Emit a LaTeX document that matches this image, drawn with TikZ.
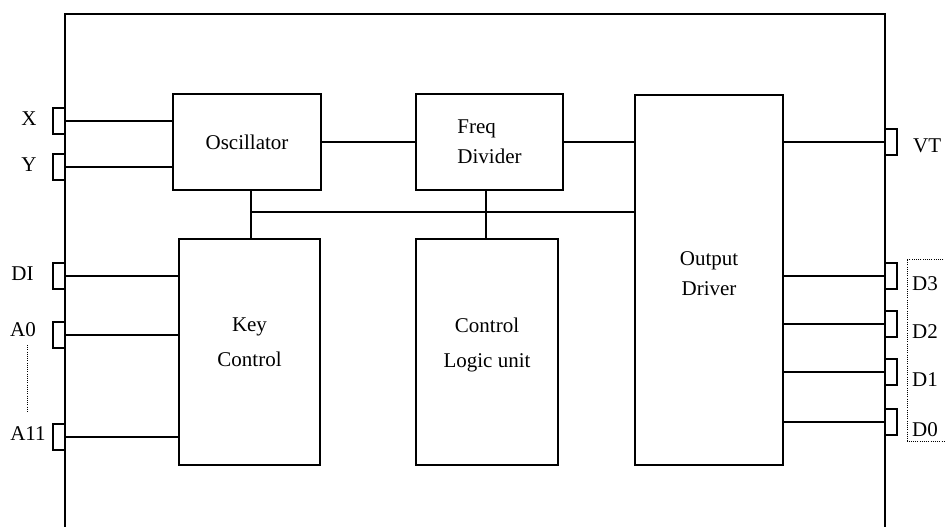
\documentclass[tikz,border=0pt]{standalone}
\usepackage{fontspec}
\setmainfont{Liberation Serif}

\tikzset{
  block/.style={draw, line width=1.8pt, inner sep=0pt},
  pinbox/.style={draw, line width=1.6pt, minimum width=12pt, minimum height=26pt, inner sep=0pt, fill=white},
  wire/.style={line width=1.8pt},
  lbl/.style={inner sep=0pt},
  dots/.style={line width=1pt, dash pattern=on 1pt off 1.2pt},
}

\begin{document}
\begin{tikzpicture}[x=1pt, y=-1pt, font=\fontsize{21}{30}\selectfont]
\useasboundingbox (0,0) rectangle (945,527);

% chip outline, open at the bottom
\draw[wire] (65,527) -- (65,14) -- (885,14) -- (885,527);

% blocks
\node[block, minimum width=148pt, minimum height=96pt] (osc) at (247,142) {Oscillator};
\node[block, minimum width=147pt, minimum height=96pt, align=left] (freq) at (489.5,142) {Freq\\Divider};
\node[block, minimum width=148pt, minimum height=370pt] (out) at (709,280) {};
\node[block, minimum width=141pt, minimum height=226pt] (key) at (249.5,352) {};
\node[block, minimum width=142pt, minimum height=226pt] (logic) at (487,352) {};

\node[lbl, align=center] (out txt) at ([yshift=6pt]out.center) {Output\\Driver};
\node[lbl, align=center] (key txt) at ([yshift=9.5pt]key.center) {Key\\[5pt]Control};
\node[lbl, align=center] (logic txt) at ([yshift=7pt]logic.center) {Control\\[5pt]Logic unit};

% pins on the left
\node[pinbox] (pin x) at (59,121) {};
\node[pinbox] (pin y) at (59,167) {};
\node[pinbox] (pin di) at (59,276) {};
\node[pinbox] (pin a0) at (59,335) {};
\node[pinbox] (pin a11) at (59,437) {};

\node[lbl] (lbl x) at (29,119) {X};
\node[lbl] (lbl y) at (29,165) {Y};
\node[lbl] (lbl di) at (22.5,273.5) {DI};
\node[lbl] (lbl a0) at (23,330) {A0};
\node[lbl] (lbl a11) at (28,434) {A11};
\draw[dots] (27,345) -- (27,413);

% pins on the right
\node[pinbox] (pin vt) at (891,142) {};
\node[pinbox] (pin d3) at (891,276) {};
\node[pinbox] (pin d2) at (891,324) {};
\node[pinbox] (pin d1) at (891,372) {};
\node[pinbox] (pin d0) at (891,422) {};

\node[lbl, anchor=west] (lbl vt) at (913,146) {VT};
\node[lbl, anchor=west] (lbl d3) at (912,284) {D3};
\node[lbl, anchor=west] (lbl d2) at (912,332) {D2};
\node[lbl, anchor=west] (lbl d1) at (912,380) {D1};
\node[lbl, anchor=west] (lbl d0) at (912,430) {D0};
\draw[dots] (950,259) -- (907,259) -- (907,441) -- (950,441);

% connections
\draw[wire] (pin x.east) -- (pin x.east -| osc.west);
\draw[wire] (pin y.east) -- (pin y.east -| osc.west);
\draw[wire] (pin di.east) -- (pin di.east -| key.west);
\draw[wire] (pin a0.east) -- (pin a0.east -| key.west);
\draw[wire] (pin a11.east) -- (pin a11.east -| key.west);

\draw[wire] (osc.east) -- (freq.west);
\draw[wire] (freq.east) -- (freq.east -| out.west);
\draw[wire] (pin vt.west -| out.east) -- (pin vt.west);

\coordinate (bus l) at (251,212);
\coordinate (bus m) at (486,212);
\draw[wire] (bus l |- osc.south) -- (bus l |- key.north);
\draw[wire] (bus l) -- (bus l -| out.west);
\draw[wire] (bus m |- freq.south) -- (bus m |- logic.north);

\draw[wire] (pin d3.west -| out.east) -- (pin d3.west);
\draw[wire] (pin d2.west -| out.east) -- (pin d2.west);
\draw[wire] (pin d1.west -| out.east) -- (pin d1.west);
\draw[wire] (pin d0.west -| out.east) -- (pin d0.west);
\end{tikzpicture}
\end{document}
